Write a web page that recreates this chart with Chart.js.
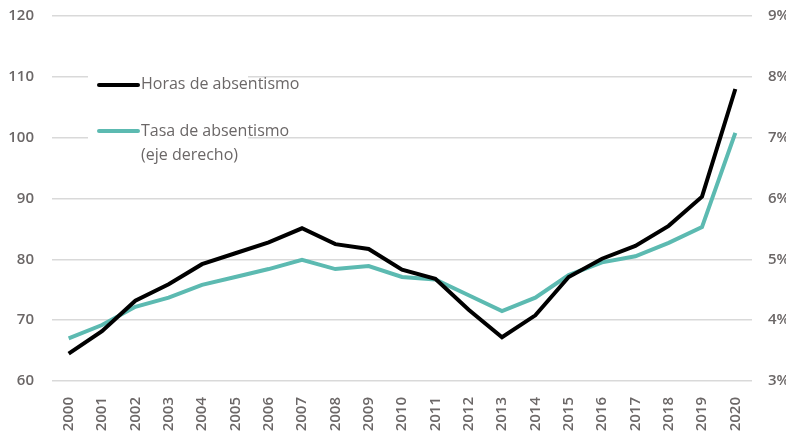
<!DOCTYPE html>
<html lang="es">
<head>
  <meta charset="UTF-8" />
  <title>Horas y tasa de absentismo</title>
  <script src="https://cdn.jsdelivr.net/npm/chart.js"></script>
  <style>
    body { margin: 0; padding: 0; background: #fff; overflow: hidden; }
  </style>
</head>
<body>
  <canvas id="lineChart" width="786" height="443"></canvas>

  <script>
    // Datos
    const anios = ['2000', '2001', '2002', '2003', '2004', '2005', '2006', '2007', '2008', '2009', '2010',
                   '2011', '2012', '2013', '2014', '2015', '2016', '2017', '2018', '2019', '2020'];
    const horas = [64.5, 68.2, 73.2, 75.9, 79.2, 81.0, 82.8, 85.1, 82.5, 81.7, 78.3,
                   76.8, 71.7, 67.2, 70.8, 77.1, 80.1, 82.2, 85.5, 90.3, 108.0];
    const tasa = [3.70, 3.92, 4.22, 4.37, 4.58, 4.71, 4.84, 4.99, 4.84, 4.89, 4.71,
                  4.67, 4.41, 4.15, 4.37, 4.74, 4.95, 5.05, 5.27, 5.53, 7.08];
    const ticksIzq = [60, 70, 80, 90, 100, 110, 120];
    const ticksDer = [3, 4, 5, 6, 7, 8, 9];
    const etiquetas = ['Horas de absentismo', 'Tasa de absentismo', '(eje derecho)'];

    const negro = '#000000';
    const verde = '#5cbab1';
    const gris = '#6b6767';
    const fuente = '"Open Sans", Lato, sans-serif';

    // Leyenda dibujada dentro del área del gráfico
    const leyenda = {
      id: 'leyenda',
      afterDraw(chart) {
        const c = chart.ctx;
        c.save();
        c.fillStyle = '#fff';
        c.fillRect(88, 62, 160, 108);
        c.lineCap = 'round';
        c.lineWidth = 4;
        c.strokeStyle = negro;
        c.beginPath(); c.moveTo(99, 85); c.lineTo(138, 85); c.stroke();
        c.strokeStyle = verde;
        c.beginPath(); c.moveTo(99, 131); c.lineTo(138, 131); c.stroke();
        c.fillStyle = gris;
        c.font = '16px ' + fuente;
        c.textBaseline = 'middle';
        c.fillText(etiquetas[0], 141, 84);
        c.fillText(etiquetas[1], 141, 131);
        c.fillText(etiquetas[2], 141, 155);
        c.restore();
      }
    };

    function sinRelleno(s) {
      s.paddingTop = 0; s.paddingBottom = 0; s.paddingLeft = 0; s.paddingRight = 0;
    }

    const ctx = document.getElementById('lineChart').getContext('2d');
    new Chart(ctx, {
      type: 'line',
      data: {
        labels: anios,
        datasets: [
          { label: etiquetas[0], data: horas, borderColor: negro, borderWidth: 4, yAxisID: 'y', pointRadius: 0, tension: 0 },
          { label: etiquetas[1], data: tasa, borderColor: verde, borderWidth: 4, yAxisID: 'y1', pointRadius: 0, tension: 0 }
        ]
      },
      options: {
        responsive: false,
        animation: false,
        layout: { padding: { top: 16, left: 0, right: 0, bottom: 0 } },
        plugins: { legend: { display: false }, tooltip: { enabled: false } },
        scales: {
          x: {
            offset: true,
            grid: { display: false },
            border: { display: false },
            ticks: { color: gris, font: { family: fuente, size: 15, weight: '600' }, minRotation: 90, maxRotation: 90, padding: 8, autoSkip: false },
            afterFit(s) { s.height = 62; sinRelleno(s); }
          },
          y: {
            position: 'left',
            min: 60, max: 120,
            afterBuildTicks(s) { s.ticks = ticksIzq.map(v => ({ value: v })); },
            grid: { color: '#d9d9d9', lineWidth: 1.5, drawTicks: false },
            border: { display: false },
            ticks: { color: gris, font: { family: fuente, size: 15, weight: '600' }, padding: 18 },
            afterFit(s) { s.width = 52; sinRelleno(s); }
          },
          y1: {
            position: 'right',
            min: 3, max: 9,
            afterBuildTicks(s) { s.ticks = ticksDer.map(v => ({ value: v })); },
            grid: { display: false, drawTicks: false },
            border: { display: false },
            ticks: { color: gris, font: { family: fuente, size: 15, weight: '600' }, padding: 16, callback: v => v + '%' },
            afterFit(s) { s.width = 34; sinRelleno(s); }
          }
        }
      },
      plugins: [leyenda]
    });
  </script>
</body>
</html>
